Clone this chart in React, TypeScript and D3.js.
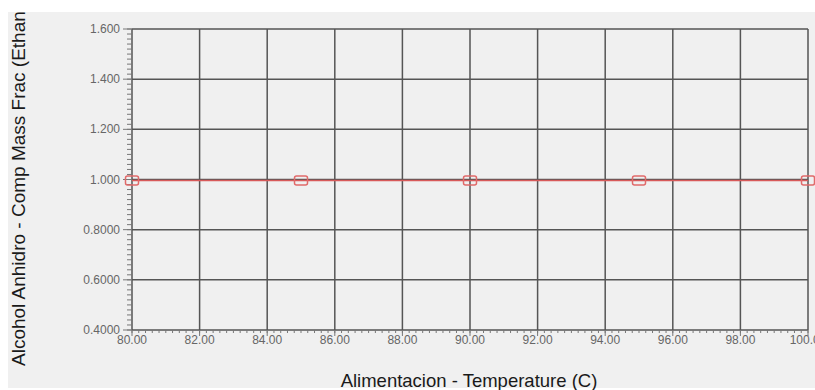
import { useEffect, useRef } from 'react';
import * as d3 from 'd3';

// data
const temps = [80, 85, 90, 95, 100];
const massFrac = [0.996, 0.996, 0.996, 0.996, 0.996];
const xTicks = [80, 82, 84, 86, 88, 90, 92, 94, 96, 98, 100];
const yTicks = [0.4, 0.6, 0.8, 1.0, 1.2, 1.4, 1.6];
const yTickLabels = ['0.4000', '0.6000', '0.8000', '1.000', '1.200', '1.400', '1.600'];

const W = 815;
const H = 390;

const App = () => {
    const ref = useRef<SVGSVGElement>(null);

    useEffect(() => {
        const svg = d3.select(ref.current);
        svg.selectAll('*').remove();

        const left = 132, right = 808, top = 29, bottom = 330;
        const x = d3.scaleLinear().domain([80, 100]).range([left, right]);
        const y = d3.scaleLinear().domain([0.4, 1.6]).range([bottom, top]);

        // panel background
        svg.append('rect')
            .attr('x', 8).attr('y', 12)
            .attr('width', W - 8).attr('height', 376)
            .attr('fill', '#f0f0f0');

        const defs = svg.append('defs');
        defs.append('clipPath').attr('id', 'panel')
            .append('rect').attr('x', 8).attr('y', 12).attr('width', W - 8).attr('height', 376);

        // grid
        const grid = svg.append('g').attr('stroke', '#555').attr('stroke-width', 1.5);
        xTicks.forEach(t => {
            grid.append('line')
                .attr('x1', x(t)).attr('x2', x(t))
                .attr('y1', top).attr('y2', bottom);
        });
        yTicks.forEach(t => {
            grid.append('line')
                .attr('x1', left).attr('x2', right)
                .attr('y1', y(t)).attr('y2', y(t));
        });

        // minor ticks
        const ticks = svg.append('g').attr('stroke', '#777').attr('stroke-width', 1);
        for (let v = 0.4; v <= 1.6001; v += 0.02) {
            ticks.append('line')
                .attr('x1', left - 5).attr('x2', left)
                .attr('y1', y(v)).attr('y2', y(v));
        }
        for (let v = 80; v <= 100.001; v += 0.2) {
            ticks.append('line')
                .attr('x1', x(v)).attr('x2', x(v))
                .attr('y1', bottom).attr('y2', bottom + 3);
        }
        yTicks.forEach(t => {
            ticks.append('line')
                .attr('x1', left - 9).attr('x2', left)
                .attr('y1', y(t)).attr('y2', y(t));
        });
        xTicks.forEach(t => {
            ticks.append('line')
                .attr('x1', x(t)).attr('x2', x(t))
                .attr('y1', bottom).attr('y2', bottom + 6);
        });

        // tick labels
        yTicks.forEach((t, i) => {
            svg.append('text')
                .attr('x', left - 12).attr('y', y(t) + 4)
                .attr('text-anchor', 'end')
                .attr('font-family', 'Liberation Sans, Arial, sans-serif')
                .attr('font-size', 12)
                .attr('fill', '#666')
                .text(yTickLabels[i]);
        });
        xTicks.forEach(t => {
            svg.append('text')
                .attr('x', x(t)).attr('y', bottom + 14)
                .attr('text-anchor', 'middle')
                .attr('font-family', 'Liberation Sans, Arial, sans-serif')
                .attr('font-size', 12)
                .attr('fill', '#666')
                .text(t.toFixed(2));
        });

        // series
        const pts = temps.map((t, i) => [t, massFrac[i]] as [number, number]);
        const series = svg.append('g').attr('clip-path', 'url(#panel)');
        series.append('path')
            .datum(pts)
            .attr('d', d3.line().x(d => x(d[0])).y(d => y(d[1])))
            .attr('fill', 'none')
            .attr('stroke', '#d85a5a')
            .attr('stroke-width', 1.5);
        series.selectAll('rect.m')
            .data(pts)
            .enter().append('rect')
            .attr('class', 'm')
            .attr('x', d => x(d[0]) - 6.5).attr('y', d => y(d[1]) - 4.5)
            .attr('width', 13).attr('height', 9)
            .attr('rx', 2)
            .attr('fill', 'none')
            .attr('stroke', '#e06a6a')
            .attr('stroke-width', 1.5);

        // axis titles
        svg.append('text')
            .attr('x', 469).attr('y', 387)
            .attr('text-anchor', 'middle')
            .attr('font-family', 'Liberation Sans, Arial, sans-serif')
            .attr('font-size', 18.5)
            .attr('fill', '#1a1a1a')
            .text('Alimentacion - Temperature (C)');

        svg.append('g').attr('clip-path', 'url(#panel)')
            .append('text')
            .attr('transform', 'translate(25,366) rotate(-90)')
            .attr('text-anchor', 'start')
            .attr('font-family', 'Liberation Sans, Arial, sans-serif')
            .attr('font-size', 19)
            .attr('fill', '#1a1a1a')
            .text('Alcohol Anhidro - Comp Mass Frac (Ethanol)');
    }, []);

    return (
        <svg ref={ref} width={W} height={H}
            style={{ position: 'absolute', left: 0, top: 0, background: '#fff' }} />
    );
};

export default App;
